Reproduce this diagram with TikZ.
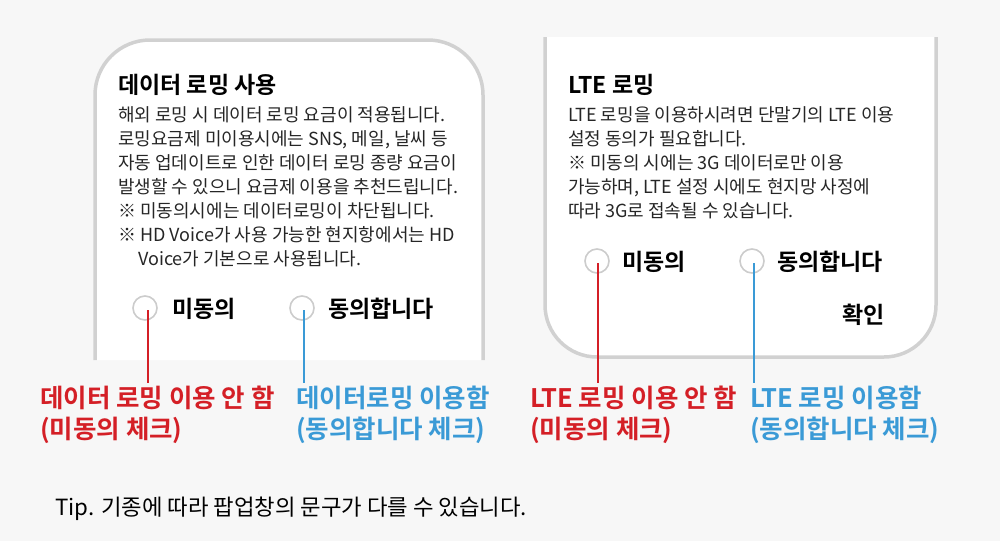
\documentclass[tikz,border=0pt]{standalone}
\usepackage{fontspec}
\setmainfont{Noto Sans CJK KR}
\newfontfamily\kb{Noto Sans CJK KR Bold}
\begin{document}
\begin{tikzpicture}[x=1pt,y=-1pt,
  body/.style={anchor=north west,inner sep=0,font=\fontsize{18}{24}\selectfont,text=black!85,align=left},
  ttl/.style={anchor=base west,inner sep=0,font=\kb\fontsize{23}{26}\selectfont},
  opt/.style={anchor=base west,inner sep=0,font=\kb\fontsize{23}{26}\selectfont},
  radio/.style={circle,draw=black!20,line width=1.6pt,fill=white,minimum size=24pt,inner sep=0},
  lab/.style={anchor=north west,inner sep=0,font=\kb\fontsize{25.5}{31}\selectfont,align=left}]
\fill[black!3] (0,0) rectangle (1000,541);
\useasboundingbox (0,0) rectangle (1000,541);
\definecolor{rd}{HTML}{D41F26}\definecolor{bl}{HTML}{3A9AD6}
% panels
\fill[white] (95,360) -- (95,95) arc[start angle=180,end angle=270,radius=55] -- (428,40) arc[start angle=270,end angle=360,radius=55] -- (483,360) -- cycle;
\draw[black!18,line width=3.5pt] (95,360) -- (95,95) arc[start angle=180,end angle=270,radius=55] -- (428,40) arc[start angle=270,end angle=360,radius=55] -- (483,360);
\fill[white] (545,37) -- (545,305) arc[start angle=180,end angle=90,radius=52] -- (884,357) arc[start angle=90,end angle=0,radius=52] -- (936,37) -- cycle;
\draw[black!18,line width=3.5pt] (545,37) -- (545,305) arc[start angle=180,end angle=90,radius=52] -- (884,357) arc[start angle=90,end angle=0,radius=52] -- (936,37);
% left texts
\node[ttl] (t1) at (118,93) {데이터 로밍 사용};
\node[body] (b1) at (118,106) {해외 로밍 시 데이터 로밍 요금이 적용됩니다.\\로밍요금제 미이용시에는 SNS, 메일, 날씨 등\\자동 업데이트로 인한 데이터 로밍 종량 요금이\\발생할 수 있으니 요금제 이용을 추천드립니다.\\※ 미동의시에는 데이터로밍이 차단됩니다.\\※ HD Voice가 사용 가능한 현지항에서는 HD\\\hspace*{20pt}Voice가 기본으로 사용됩니다.};
\node[radio] (r1) at (145,308) {};
\node[opt] (o1) at (172,317) {미동의};
\node[radio] (r2) at (302,308) {};
\node[opt] (o2) at (328,317) {동의합니다};
% right texts
\node[ttl] (t2) at (568,93) {LTE 로밍};
\node[body] (b2) at (568,106) {LTE 로밍을 이용하시려면 단말기의 LTE 이용\\설정 동의가 필요합니다.\\※ 미동의 시에는 3G 데이터로만 이용\\\hspace*{0pt}가능하며, LTE 설정 시에도 현지망 사정에\\따라 3G로 접속될 수 있습니다.};
\node[radio] (r3) at (597,261) {};
\node[opt] (o3) at (622,270) {미동의};
\node[radio] (r4) at (752,261) {};
\node[opt] (o4) at (777,270) {동의합니다};
\node[opt] (ok) at (842,323) {확인};
% labels
\node[lab,text=rd] (l1) at (40,386) {데이터 로밍 이용 안 함\\(미동의 체크)};
\node[lab,text=bl] (l2) at (296,386) {데이터로밍 이용함\\(동의합니다 체크)};
\node[lab,text=rd] (l3) at (530,386) {LTE 로밍 이용 안 함\\(미동의 체크)};
\node[lab,text=bl] (l4) at (750,386) {LTE 로밍 이용함\\(동의합니다 체크)};
\coordinate (e1) at (148,383); \coordinate (e2) at (304,383);
\coordinate (e3) at (598,383); \coordinate (e4) at (754,383);
\draw[rd,line width=1.3pt] (r1.center) ++(3,2) -- (e1);
\draw[bl,line width=1.3pt] (r2.center) ++(2,2) -- (e2);
\draw[rd,line width=1.3pt] (r3.center) ++(1,2) -- (e3);
\draw[bl,line width=1.3pt] (r4.center) ++(2,2) -- (e4);
\node[anchor=base west,inner sep=0,font=\fontsize{22.3}{24}\selectfont] (tip) at (55,515) {Tip. 기종에 따라 팝업창의 문구가 다를 수 있습니다.};
\end{tikzpicture}
\end{document}
